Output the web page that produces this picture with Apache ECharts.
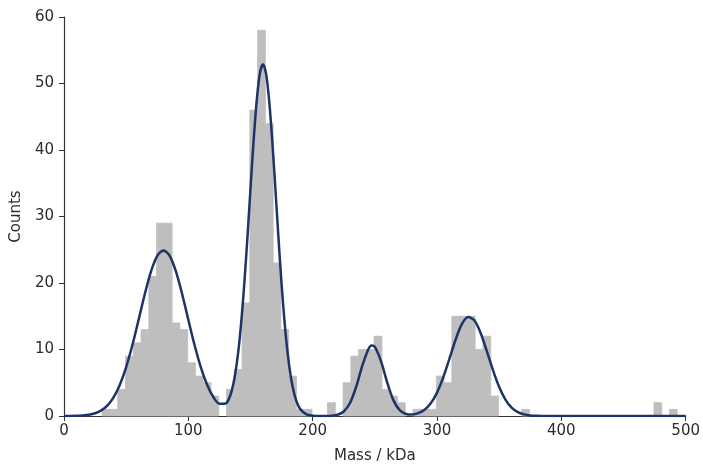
<!DOCTYPE html>
<html>
<head>
<meta charset="utf-8">
<script src="https://cdn.jsdelivr.net/npm/echarts@6/dist/echarts.min.js"></script>
<style>html,body{margin:0;padding:0;background:#fff;overflow:hidden}#c{width:703px;height:469px}</style>
</head>
<body>
<div id="c"></div>
<script>
// Histogram bins (left edge in kDa), bin width and counts (non-empty bins only)
var binWidth = 6.25;
var binStart = [30.70, 36.95, 43.20, 49.45, 55.70, 61.95, 68.20, 74.45, 80.70, 86.95,
  93.20, 99.45, 105.70, 111.95, 118.20, 130.70, 136.95, 143.20, 149.45, 155.70,
  161.95, 168.20, 174.45, 180.70, 186.95, 193.20, 211.95, 224.45, 230.70, 236.95,
  243.20, 249.45, 255.70, 261.95, 268.20, 280.70, 286.95, 293.20, 299.45, 305.70,
  311.95, 318.20, 324.45, 330.70, 336.95, 343.20, 368.20, 474.45, 486.95];
var counts = [1, 1, 4, 9, 11, 13, 21, 29, 29, 14,
  13, 8, 6, 5, 3, 4, 7, 17, 46, 58,
  44, 23, 13, 6, 1, 1, 2, 5, 9, 10,
  10, 12, 4, 3, 2, 1, 1, 1, 6, 5,
  15, 15, 15, 10, 12, 3, 1, 2, 1];

// Fitted curve
var fitX = [0, 5, 10, 15, 20, 25, 30, 35, 40, 45, 50, 55, 60, 65, 70, 75, 80, 85, 90, 95,
  100, 105, 110, 115, 120, 125, 130, 132.5, 135, 137.5, 140, 142.5, 145, 147.5, 150, 152.5,
  155, 157.5, 160, 162.5, 165, 167.5, 170, 172.5, 175, 177.5, 180, 182.5, 185, 187.5, 190,
  195, 200, 205, 210, 215, 220, 225, 230, 235, 240, 245, 247.5, 250, 255, 260, 265, 270,
  275, 280, 285, 290, 295, 300, 305, 310, 315, 320, 325, 330, 335, 340, 345, 350, 355,
  360, 365, 370, 375, 380, 385, 390, 400, 450, 500];
var fitY = [0, 0.01, 0.03, 0.08, 0.19, 0.41, 0.84, 1.60, 2.84, 4.73, 7.35, 10.67, 14.47, 18.35, 21.74, 24.07, 24.90, 24.07, 21.74, 18.35,
  14.47, 10.67, 7.35, 4.74, 2.89, 1.85, 1.88, 2.54, 3.86, 6.08, 9.41, 14.01, 19.88, 26.79, 34.21, 41.40,
  47.44, 51.48, 52.90, 51.48, 47.43, 41.38, 34.18, 26.74, 19.80, 13.89, 9.22, 5.80, 3.45, 1.95, 1.04,
  0.25, 0.05, 0.01, 0.01, 0.04, 0.18, 0.68, 1.96, 4.40, 7.60, 10.11, 10.59, 10.38, 8.21, 5.01, 2.35, 0.87,
  0.30, 0.21, 0.42, 0.94, 1.91, 3.52, 5.81, 8.62, 11.51, 13.80, 14.87, 14.40, 12.53, 9.80, 6.89, 4.35, 2.47,
  1.26, 0.58, 0.24, 0.09, 0.03, 0.01, 0, 0, 0, 0];

var xTicks = [0, 100, 200, 300, 400, 500];
var yTicks = [0, 10, 20, 30, 40, 50, 60];

var histData = binStart.map(function (s, i) { return [s, s + binWidth, counts[i]]; });
var fitData = fitX.map(function (x, i) { return [x, fitY[i]]; });

var font = 'DejaVu Sans';
var txt = '#2b2b2b';
var axisCol = '#333333';
var barCol = '#bebebe';

var chart = echarts.init(document.getElementById('c'), null, {renderer: 'canvas'});
chart.setOption({
  animation: false,
  backgroundColor: '#ffffff',
  grid: {left: 64, right: 14, top: 17, bottom: 47, containLabel: false},
  xAxis: {
    type: 'value', min: xTicks[0], max: xTicks[xTicks.length - 1], interval: 100,
    name: 'Mass / kDa', nameLocation: 'middle', nameGap: 33,
    nameTextStyle: {fontFamily: font, fontSize: 15, color: txt},
    axisLine: {show: true, onZero: false, lineStyle: {color: axisCol, width: 1.2}},
    axisTick: {show: true, inside: false, length: 5, lineStyle: {color: axisCol}},
    axisLabel: {fontFamily: font, fontSize: 15, color: txt, margin: 8},
    splitLine: {show: false}
  },
  yAxis: {
    type: 'value', min: yTicks[0], max: yTicks[yTicks.length - 1], interval: 10,
    name: 'Counts', nameLocation: 'middle', nameGap: 38, nameRotate: 90,
    nameTextStyle: {fontFamily: font, fontSize: 15, color: txt},
    axisLine: {show: true, onZero: false, lineStyle: {color: axisCol, width: 1.2}},
    axisTick: {show: true, inside: false, length: 5, lineStyle: {color: axisCol}},
    axisLabel: {fontFamily: font, fontSize: 15, color: txt, margin: 10},
    splitLine: {show: false}
  },
  series: [
    {
      type: 'custom',
      data: histData,
      encode: {x: [0, 1], y: 2},
      z: 1,
      renderItem: function (params, api) {
        var p0 = api.coord([api.value(0), 0]);
        var p1 = api.coord([api.value(1), api.value(2)]);
        return {
          type: 'rect',
          shape: {x: p0[0], y: p1[1], width: p1[0] - p0[0], height: p0[1] - p1[1]},
          style: {fill: barCol, stroke: barCol, lineWidth: 0.8}
        };
      }
    },
    {
      type: 'line',
      data: fitData,
      smooth: 0.3,
      showSymbol: false,
      z: 3,
      lineStyle: {color: '#1d3466', width: 2.5}
    }
  ]
});
</script>
</body>
</html>
